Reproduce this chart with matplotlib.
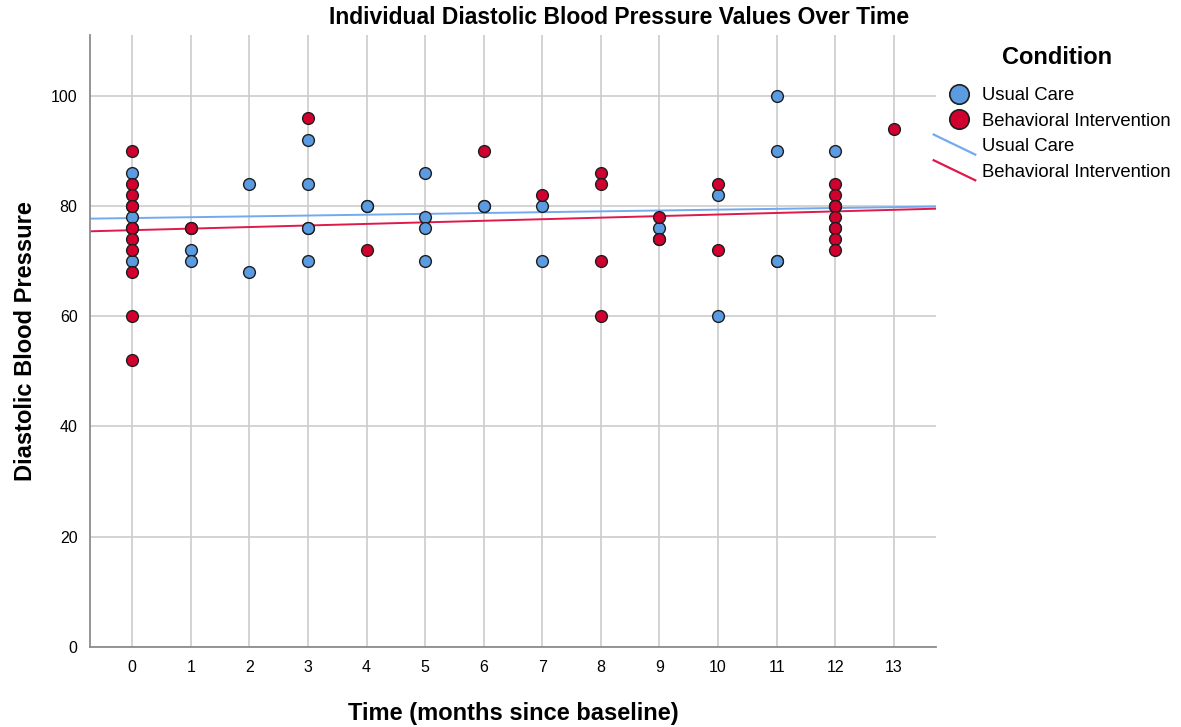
import matplotlib
matplotlib.use("Agg")
import matplotlib.pyplot as plt
import numpy as np
from matplotlib.lines import Line2D
from matplotlib.legend_handler import HandlerLine2D

plt.rcParams["font.family"] = ["Liberation Sans", "DejaVu Sans"]

# months since baseline and diastolic readings, per condition
usual_time = [0, 0, 0, 0, 0, 1, 1, 1, 2, 2, 3, 3, 3, 3, 3, 4, 4, 5, 5, 5, 5,
              6, 6, 7, 7, 9, 10, 10, 11, 11, 11, 11, 12, 12, 12]
usual_dbp = [86, 80, 78, 76, 70, 76, 72, 70, 84, 68, 92, 84, 76, 76, 70, 80, 80,
             86, 78, 76, 70, 80, 80, 80, 70, 76, 82, 60, 100, 90, 70, 70, 90, 80, 76]

behav_time = [0, 0, 0, 0, 0, 0, 0, 0, 0, 0, 1, 3, 4, 6, 7, 8, 8, 8, 8,
              9, 9, 9, 10, 10, 12, 12, 12, 12, 12, 12, 12, 12, 13]
behav_dbp = [90, 84, 82, 80, 76, 74, 72, 68, 60, 52, 76, 96, 72, 90, 82, 86, 84,
             70, 60, 78, 74, 74, 84, 72, 84, 82, 80, 80, 78, 76, 74, 72, 94]

# linear fits (intercept, slope) per condition
usual_fit = (77.8, 0.152)
behav_fit = (75.6, 0.284)

labels = ["Usual Care", "Behavioral Intervention"]
point_colors = ["#5a9be2", "#d2002f"]
line_colors = ["#72aaf0", "#e0194b"]
months = list(range(0, 14))
y_ticks = [0, 20, 40, 60, 80, 100]


class DiagonalLineHandler(HandlerLine2D):
    def create_artists(self, legend, orig_handle, xdescent, ydescent,
                       width, height, fontsize, trans):
        line = Line2D([-xdescent - 0.25 * width, -xdescent + width],
                      [height + 0.3 * height, -0.25 * height])
        line.update_from(orig_handle)
        line.set_transform(trans)
        return [line]


fig = plt.figure(figsize=(11.81, 7.27), dpi=100)
ax = fig.add_axes([90 / 1181, 80 / 727, 846 / 1181, 612 / 727])

xlim = (-0.72, 13.72)
ax.set_xlim(*xlim)
ax.set_ylim(0, 111)

ax.set_xticks(months)
ax.set_yticks(y_ticks)
ax.grid(True, color="#cccccc", linewidth=1.2)
ax.set_axisbelow(True)
ax.tick_params(length=0, labelsize=11.5, pad=9)
for side in ["top", "right"]:
    ax.spines[side].set_visible(False)
for side in ["left", "bottom"]:
    ax.spines[side].set_color("#8c8c8c")
    ax.spines[side].set_linewidth(1.3)

xs = np.array(xlim)
for (b0, b1), c in zip([usual_fit, behav_fit], line_colors):
    ax.plot(xs, b0 + b1 * xs, color=c, linewidth=1.4, zorder=2)

for t, v, c in zip([usual_time, behav_time], [usual_dbp, behav_dbp], point_colors):
    ax.scatter(t, v, s=72, color=c, edgecolor="#1e1e1e", linewidth=1.0, zorder=3)

ax.set_xlabel("Time (months since baseline)", fontsize=17, fontweight="bold", labelpad=20)
ax.set_ylabel("Diastolic Blood Pressure", fontsize=17, fontweight="bold", labelpad=10)
fig.text(619 / 1181, 1 - 18 / 727, "Individual Diastolic Blood Pressure Values Over Time",
         ha="center", va="center", fontsize=16.5, fontweight="bold")

handles = [
    Line2D([], [], marker="o", linestyle="none", markersize=14,
           markerfacecolor=point_colors[0], markeredgecolor="#1e1e1e", markeredgewidth=1.2),
    Line2D([], [], marker="o", linestyle="none", markersize=14,
           markerfacecolor=point_colors[1], markeredgecolor="#1e1e1e", markeredgewidth=1.2),
    Line2D([], [], color=line_colors[0], linewidth=1.6),
    Line2D([], [], color=line_colors[1], linewidth=1.6),
]
fig.text(1057 / 1181, 1 - 57 / 727, "Condition", ha="center", va="center",
         fontsize=17, fontweight="bold")
fig.legend(handles, labels + labels,
           loc="upper left", bbox_to_anchor=(942 / 1181, 1 - 87 / 727),
           frameon=False, fontsize=13.3,
           handlelength=1.8, handletextpad=0.35, labelspacing=0.47,
           borderaxespad=0, borderpad=0,
           handler_map={handles[2]: DiagonalLineHandler(),
                        handles[3]: DiagonalLineHandler()})

fig.savefig("out.png", dpi=100)
